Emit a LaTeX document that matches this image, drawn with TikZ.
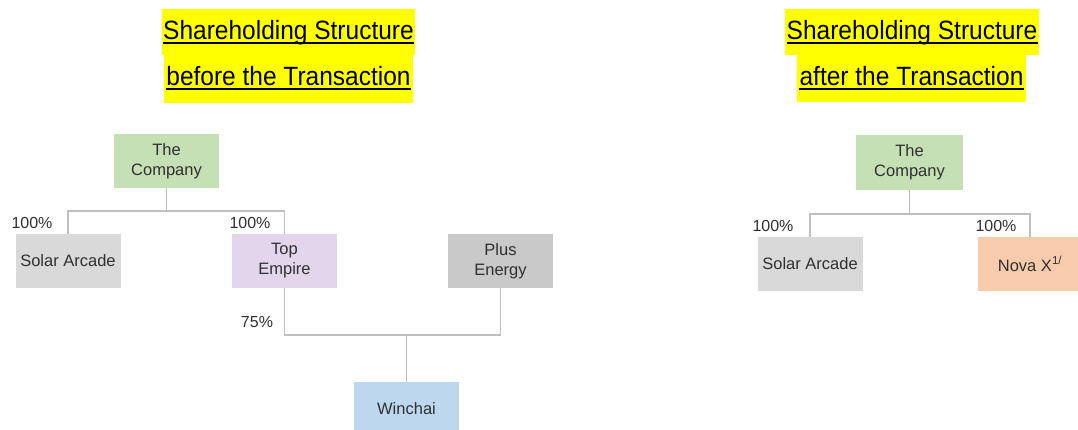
\documentclass[tikz,border=0pt]{standalone}
\usepackage{fontspec}
\setmainfont{Liberation Sans}
\definecolor{cgreen}{HTML}{C5E0B4}
\definecolor{cgray}{HTML}{D9D9D9}
\definecolor{cdgray}{HTML}{C9C9C9}
\definecolor{cpurple}{HTML}{E3D6EC}
\definecolor{cblue}{HTML}{BDD7EE}
\definecolor{corange}{HTML}{F8CBAD}
\definecolor{cline}{HTML}{BFBFBF}
\definecolor{ctext}{HTML}{303030}
\definecolor{hl}{HTML}{FFFF00}
\tikzset{
  entity/.style={rectangle, inner sep=0pt, minimum width=105pt, minimum height=54pt,
    align=center, text=ctext, font=\fontsize{16.5}{20}\selectfont},
  pct/.style={inner sep=0pt, text=ctext, font=\fontsize{16}{19}\selectfont},
  link/.style={draw=cline, line width=1.8pt},
  titletext/.style={inner sep=0pt, anchor=base, font=\fontsize{24.5}{28}\selectfont},
  hlbox/.style={fill=hl, draw=none},
  uline/.style={draw=black, line width=1.3pt}
}
\newcommand{\ttl}[1]{\scalebox{1}[1.08]{#1}}
\begin{document}
\begin{tikzpicture}[x=1pt,y=-1pt]
\useasboundingbox (0,0) rectangle (1078,429);
% title highlights
\fill[hl] (162,9) rectangle (415,55);
\fill[hl] (164,55) rectangle (413,103);
\fill[hl] (785,9) rectangle (1039,55);
\fill[hl] (797,55) rectangle (1026,102);
\node[titletext] (t1) at (288.5,39.5) {\ttl{Shareholding Structure}};
\node[titletext] (t2) at (288.5,85.5) {\ttl{before the Transaction}};
\node[titletext] (t3) at (912,39.5) {\ttl{Shareholding Structure}};
\node[titletext] (t4) at (911.5,85.5) {\ttl{after the Transaction}};
\foreach \t in {t1,t2,t3,t4}{
  \draw[uline] ([yshift=-3.5pt]\t.base west) -- ([yshift=-3.5pt]\t.base east);
}
% left chart
\node[entity, fill=cgreen] (lc) at (166.5,161) {The\\Company};
\node[entity, fill=cgray] (lsa) at (68,261) {Solar Arcade};
\node[entity, fill=cpurple] (lte) at (284.5,261) {Top\\Empire};
\node[entity, fill=cdgray] (lpe) at (500.5,261) {Plus\\Energy};
\node[entity, fill=cblue] (lw) at (406.5,409) {Winchai};
\coordinate (lj) at (0,211);
\coordinate (lk) at (0,335);
\draw[link] (lc.south) -- (lc.south |- lj);
\draw[link] (lsa.north) -- (lsa.north |- lj) -- (lte.north |- lj) -- (lte.north);
\draw[link] (lte.south) -- (lte.south |- lk) -- (lpe.south |- lk) -- (lpe.south);
\draw[link] (lw.north) -- (lw.north |- lk);
\node[pct] (p1) at (32,223) {100\%};
\node[pct] (p2) at (250,223) {100\%};
\node[pct] (p3) at (257,322) {75\%};
% right chart
\node[entity, fill=cgreen, minimum width=107pt, minimum height=55pt] (rc) at (909.5,162.5) {The\\Company};
\node[entity, fill=cgray] (rsa) at (810,264) {Solar Arcade};
\node[entity, fill=corange] (rnx) at (1030,264) {Nova X\textsuperscript{1/}};
\coordinate (rj) at (0,214);
\draw[link] (rc.south) -- (rc.south |- rj);
\draw[link] (rsa.north) -- (rsa.north |- rj) -- (rnx.north |- rj) -- (rnx.north);
\node[pct] (p4) at (773,226) {100\%};
\node[pct] (p5) at (996,226) {100\%};
\end{tikzpicture}
\end{document}
